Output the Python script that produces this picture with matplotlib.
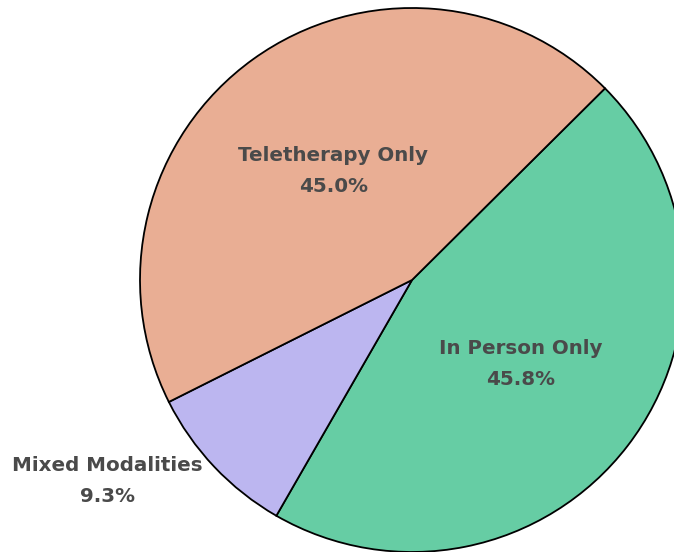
import matplotlib
matplotlib.use("Agg")
import matplotlib.pyplot as plt

labels = ["In Person Only", "Mixed Modalities", "Teletherapy Only"]
shares = [45.8, 9.3, 45.0]
colors = ["#66CDA4", "#BCB6F0", "#E9AE94"]
label_pos = [(0.40, -0.31), (-1.12, -0.74), (-0.29, 0.40)]

fig = plt.figure(figsize=(6.74, 5.52), dpi=100)
ax = fig.add_axes([0, 0, 1, 1])

wedges, _ = ax.pie(shares, colors=colors, startangle=44.8, counterclock=False,
                   radius=1.0, wedgeprops=dict(edgecolor="black", linewidth=1.3))

for lab, val, (x, y) in zip(labels, shares, label_pos):
    ax.text(x, y, f"{lab}\n{val:.1f}%", ha="center", va="center",
            fontsize=14.3, fontweight="bold", color="#4a4a4a", linespacing=1.78)

ax.set_xlim(-412 / 272, (674 - 412) / 272)
ax.set_ylim(-(552 - 280) / 272, 280 / 272)
ax.set_aspect("auto")
ax.axis("off")

fig.savefig("out.png", dpi=100)
